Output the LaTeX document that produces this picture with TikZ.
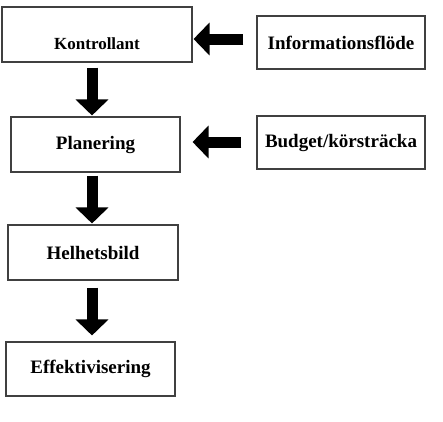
\documentclass[tikz,border=0pt]{standalone}
\usepackage{fontspec}
\setmainfont{Liberation Serif}
\usepackage{tikz}
\usetikzlibrary{arrows.meta}
\tikzset{
  flowbox/.style={
    draw=black!75,
    line width=1.1pt,
    align=center,
    inner sep=0pt,
    font=\fontsize{19}{22}\selectfont\bfseries
  },
  fat/.style={draw=black, line width=11pt,
    -{Triangle[length=16pt 0 0, width=32pt 0 0]}}
}

\begin{document}
\begin{tikzpicture}[x=1pt, y=-1pt]
  \useasboundingbox (0,0) rectangle (443,421);
  \node (kontr) [flowbox, minimum width=190pt, minimum height=55pt, text height=30pt,
    font=\fontsize{17}{20}\selectfont\bfseries] at (97, 34.5) {Kontrollant};
  \node (info) [flowbox, minimum width=168pt, minimum height=53pt] at (341, 42.5) {Informationsflöde};
  \node (plan) [flowbox, minimum width=169pt, minimum height=55pt] at (95.5, 144.5) {Planering};
  \node (budget) [flowbox, minimum width=168pt, minimum height=53pt] at (341, 142.5) {Budget/körsträcka};
  \node (helhet) [flowbox, minimum width=170pt, minimum height=55pt] at (93, 252.5) {Helhetsbild};
  \node (effekt) [flowbox, minimum width=169pt, minimum height=54pt] at (90.5, 369) {Effektivisering};
  % where the fat arrows run
  \coordinate (spine) at (92, 0);
  \coordinate (row1) at (0, 39);
  \coordinate (row2) at (0, 142);
  \draw [fat, shorten <=5pt, shorten >=1pt] (kontr.south -| spine) -- (plan.north -| spine);
  \draw [fat, shorten <=3pt, shorten >=1pt] (plan.south -| spine) -- (helhet.north -| spine);
  \draw [fat, shorten <=7pt, shorten >=6pt] (helhet.south -| spine) -- (effekt.north -| spine);
  \draw [fat, shorten <=13pt, shorten >=1pt] (info.west |- row1) -- (kontr.east |- row1);
  \draw [fat, shorten <=15pt, shorten >=12pt] (budget.west |- row2) -- (plan.east |- row2);
\end{tikzpicture}
\end{document}
